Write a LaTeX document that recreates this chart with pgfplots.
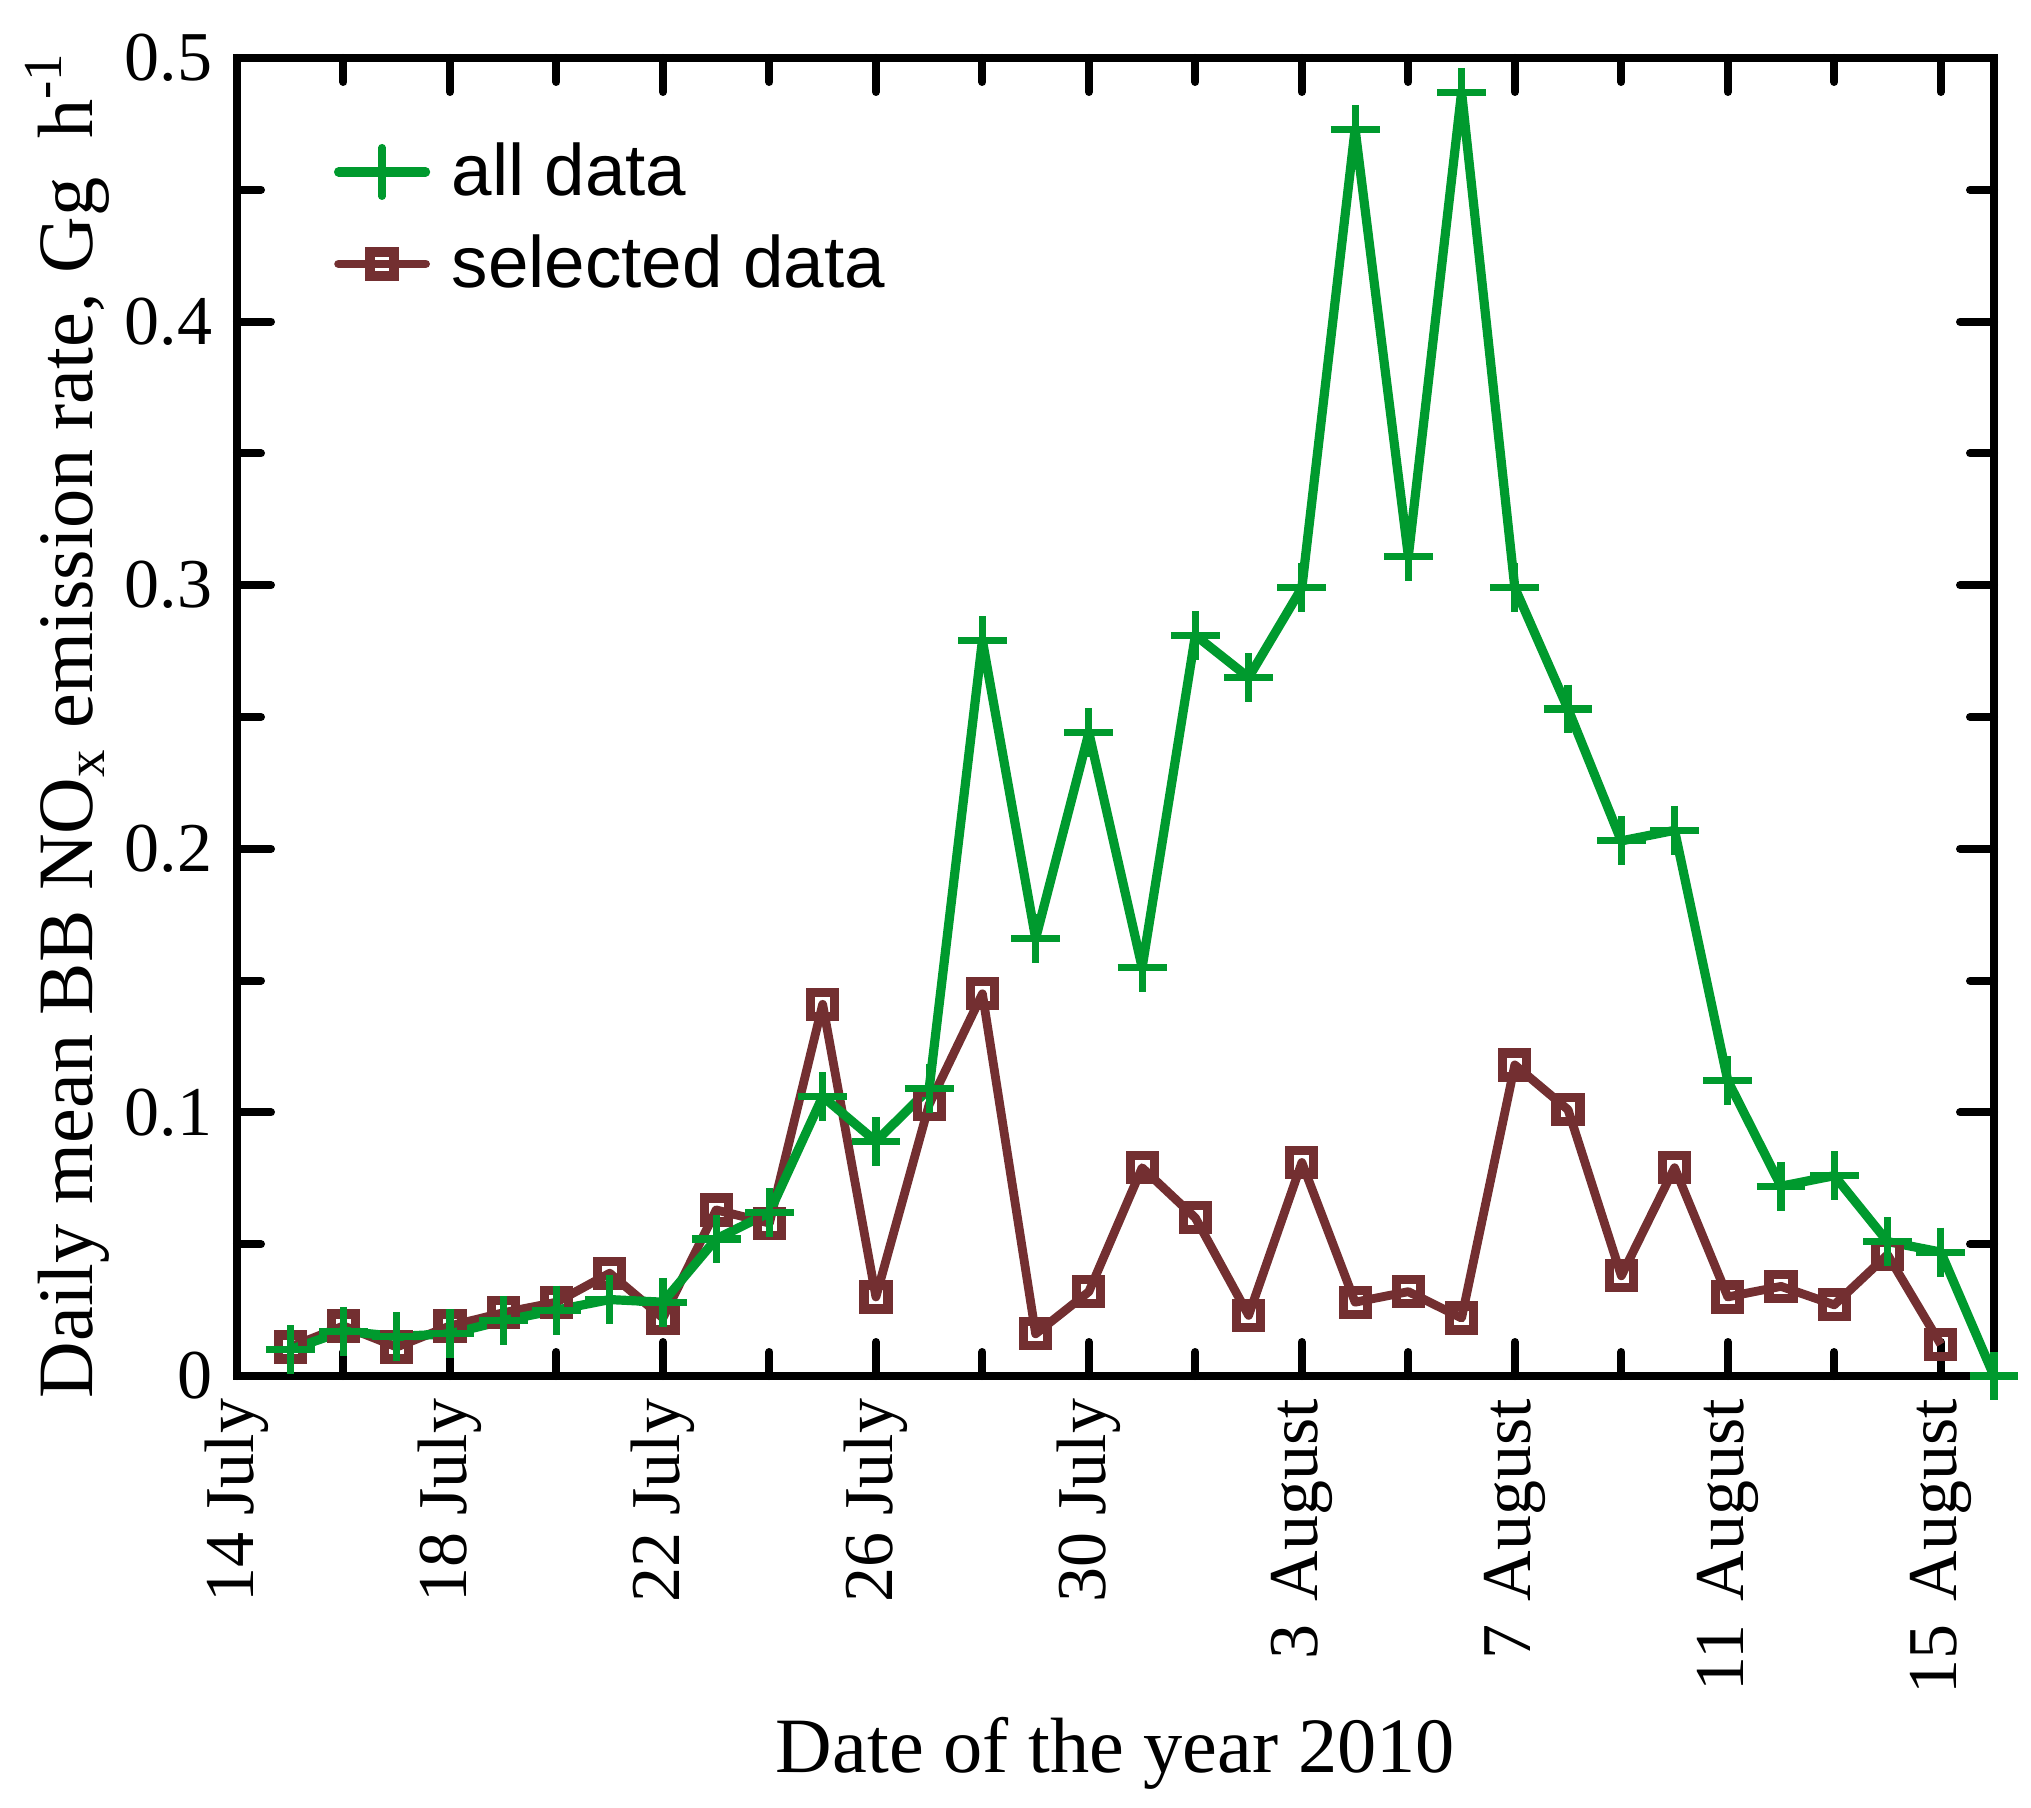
\documentclass[border=0pt]{standalone}
\usepackage{fontspec}
\setmainfont{Liberation Serif}
\setsansfont{Liberation Sans}
\usepackage{pgfplots}
\pgfplotsset{compat=1.18}
\definecolor{cgreen}{RGB}{0,154,46}
\definecolor{cbrown}{RGB}{115,47,49}
\newcommand{\tickfont}{\fontsize{17.5}{21}\selectfont}
\newcommand{\labfont}{\fontsize{19.6}{23}\selectfont}
\begin{document}
\begin{tikzpicture}
\useasboundingbox (-59.25pt,-107.75pt) rectangle (448.5pt,344pt);
\begin{axis}[
  at={(0pt,0pt)}, anchor=south west,
  scale only axis, width=439.25pt, height=329.5pt,
  xmin=0, xmax=33, ymin=0, ymax=0.5,
  clip=false,
  axis line style={line width=2pt},
  xtick={0,4,...,32},
  xticklabels={14 July,18 July,22 July,26 July,30 July,3\hspace{1.5pt} August,7\hspace{1.5pt} August,11\hspace{1.5pt} August,15\hspace{1.5pt} August},
  minor xtick={2,6,...,30},
  ytick={0,0.1,0.2,0.3,0.4,0.5},
  yticklabels={0,0.1,0.2,0.3,0.4,0.5},
  minor ytick={0.05,0.15,0.25,0.35,0.45},
  major tick length=8.5pt, minor tick length=6pt,
  every tick/.style={black, line width=2pt, line cap=round},
  tick align=inside,
  xticklabel style={yshift=-5.5pt, rotate=90, anchor=east, inner sep=0pt, font=\tickfont},
  yticklabel style={xshift=-6pt, anchor=east, inner sep=0pt, font=\tickfont},
  xlabel={Date of the year 2010},
  ylabel={Daily mean BB NO\textsubscript{x} emission rate, Gg\ \ h\textsuperscript{-1}},
  xlabel style={at={(axis description cs:0.5,-0.301)}, anchor=base, inner sep=0pt, font=\labfont},
  ylabel style={at={(axis description cs:-0.0825,0.494)}, anchor=base, inner sep=0pt, font=\labfont},
  legend style={draw=none, fill=none, at={(axis description cs:0.0552,0.9378)}, anchor=north west,
    inner sep=0pt, outer sep=0pt, row sep=7pt, column sep=5.4pt,
    nodes={inner sep=0pt, text height=14pt, text depth=2pt, font=\sffamily\fontsize{18.2}{22}\selectfont}},
  reverse legend,
  legend cell align=left,
  legend image code/.code={\draw[mark repeat=2, mark phase=2, line cap=round, #1] plot coordinates {(0pt,0pt) (10.875pt,0pt) (21.75pt,0pt)};},
]
\addplot[color=cbrown, line width=2.2pt, line join=round, mark=square, mark size=3pt,
  mark options={solid, line width=2.3pt, line join=miter}] coordinates {
(1,0.011) (2,0.019) (3,0.011) (4,0.019) (5,0.024) (6,0.028) (7,0.039) (8,0.022)
(9,0.063) (10,0.058) (11,0.141) (12,0.030) (13,0.103) (14,0.145) (15,0.016) (16,0.032)
(17,0.079) (18,0.060) (19,0.023) (20,0.081) (21,0.028) (22,0.032) (23,0.022) (24,0.118)
(25,0.101) (26,0.038) (27,0.079) (28,0.030) (29,0.034) (30,0.027) (31,0.046) (32,0.012)
};
\addlegendentry{selected data}
\addplot[color=cgreen, line width=2.3pt, line join=round, mark=+, mark size=6.1pt,
  mark options={solid, line width=1.8pt}] coordinates {
(1,0.010) (2,0.017) (3,0.015) (4,0.016) (5,0.021) (6,0.025) (7,0.029) (8,0.028)
(9,0.052) (10,0.062) (11,0.106) (12,0.089) (13,0.109) (14,0.279) (15,0.166) (16,0.244)
(17,0.155) (18,0.281) (19,0.265) (20,0.299) (21,0.473) (22,0.311) (23,0.487) (24,0.299)
(25,0.253) (26,0.203) (27,0.207) (28,0.112) (29,0.072) (30,0.076) (31,0.051) (32,0.047)
(33,0.0)
};
\addlegendentry{all data}
\end{axis}
\end{tikzpicture}
\end{document}
